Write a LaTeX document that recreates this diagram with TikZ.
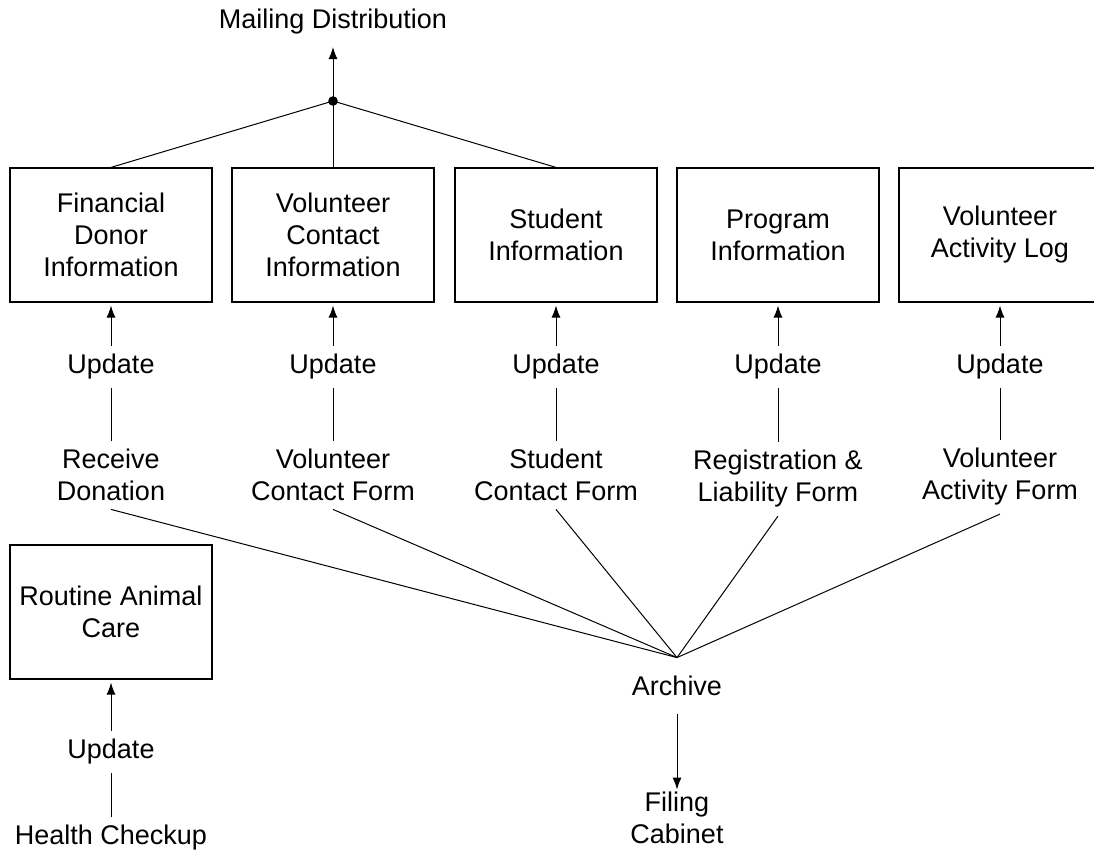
\documentclass[tikz,border=0pt]{standalone}
\usepackage{fontspec}
\setmainfont{Liberation Sans}
\usetikzlibrary{arrows.meta}

\tikzset{
  infobox/.style={draw, line width=0.6pt, minimum width=101pt, minimum height=67pt, align=center},
  txt/.style={align=center, inner sep=4pt}
}

\begin{document}
\begin{tikzpicture}[x=0.5pt, y=-0.5pt, node distance=66pt,
    font=\fontsize{13.5}{16}\selectfont, line width=0.5pt,
    >={Latex[length=6pt,width=4.5pt]}]
  \useasboundingbox (0,0) rectangle (1094,850);

  % stores
  \node [infobox] (donor) at (111,235) {Financial\\Donor\\Information};
  \node [infobox] (volinfo) at (333,235) {Volunteer\\Contact\\Information};
  \node [infobox] (student) at (556,235) {Student\\Information};
  \node [infobox] (program) at (778,235) {Program\\Information};
  \node [infobox] (actlog) at (1000,235) {Volunteer\\Activity Log};
  \node [infobox] (animal) at (111,612) {Routine Animal\\Care};

  % update steps
  \node [txt, below of=donor] (upd1) {Update};
  \node [txt, below of=volinfo] (upd2) {Update};
  \node [txt, below of=student] (upd3) {Update};
  \node [txt, below of=program] (upd4) {Update};
  \node [txt, below of=actlog] (upd5) {Update};
  \node [txt, below of=animal, yshift=-4pt] (upd6) {Update};

  % sources
  \node [txt, below of=upd1, yshift=12pt] (recv) {Receive\\Donation};
  \node [txt, below of=upd2, yshift=12pt] (volform) {Volunteer\\Contact Form};
  \node [txt, below of=upd3, yshift=12pt] (stform) {Student\\Contact Form};
  \node [txt, below of=upd4, yshift=10pt] (regform) {Registration \&\\Liability Form};
  \node [txt, below of=upd5, yshift=11pt] (actform) {Volunteer\\Activity Form};
  \node [txt, below of=upd6, yshift=23pt] (health) {Health Checkup};

  \node [txt] (mail) at (333,22) {Mailing Distribution};
  \node [txt] (arch) at (677,686) {Archive};
  \node [txt, below of=arch] (cabinet) {Filing\\Cabinet};
  \coordinate (jn) at (333,101);
  \coordinate (apex) at ([yshift=5pt]arch.north);

  \draw[->, shorten >=1.5pt] (upd1) -- (donor);
  \draw[->, shorten >=1.5pt] (upd2) -- (volinfo);
  \draw[->, shorten >=1.5pt] (upd3) -- (student);
  \draw[->, shorten >=1.5pt] (upd4) -- (program);
  \draw[->, shorten >=1.5pt] (upd5) -- (actlog);
  \draw[->, shorten >=1.5pt] (upd6) -- (animal);
  \draw (recv) -- (upd1);
  \draw (volform) -- (upd2);
  \draw (stform) -- (upd3);
  \draw (regform) -- (upd4);
  \draw (actform) -- (upd5);
  \draw (health) -- (upd6);

  % mailing list
  \draw (donor.north) -- (jn);
  \draw (volinfo.north) -- (jn);
  \draw (student.north) -- (jn);
  \fill (jn) circle (2.4pt);
  \draw[->, shorten >=2pt] (jn) -- (mail);

  % archiving
  \draw (recv.south) -- (apex);
  \draw (volform.south) -- (apex);
  \draw (stform.south) -- (apex);
  \draw (regform.south) -- (apex);
  \draw (actform.south) -- (apex);
  \draw[->, shorten <=5pt, shorten >=-3pt] (arch) -- (cabinet);
\end{tikzpicture}
\end{document}
